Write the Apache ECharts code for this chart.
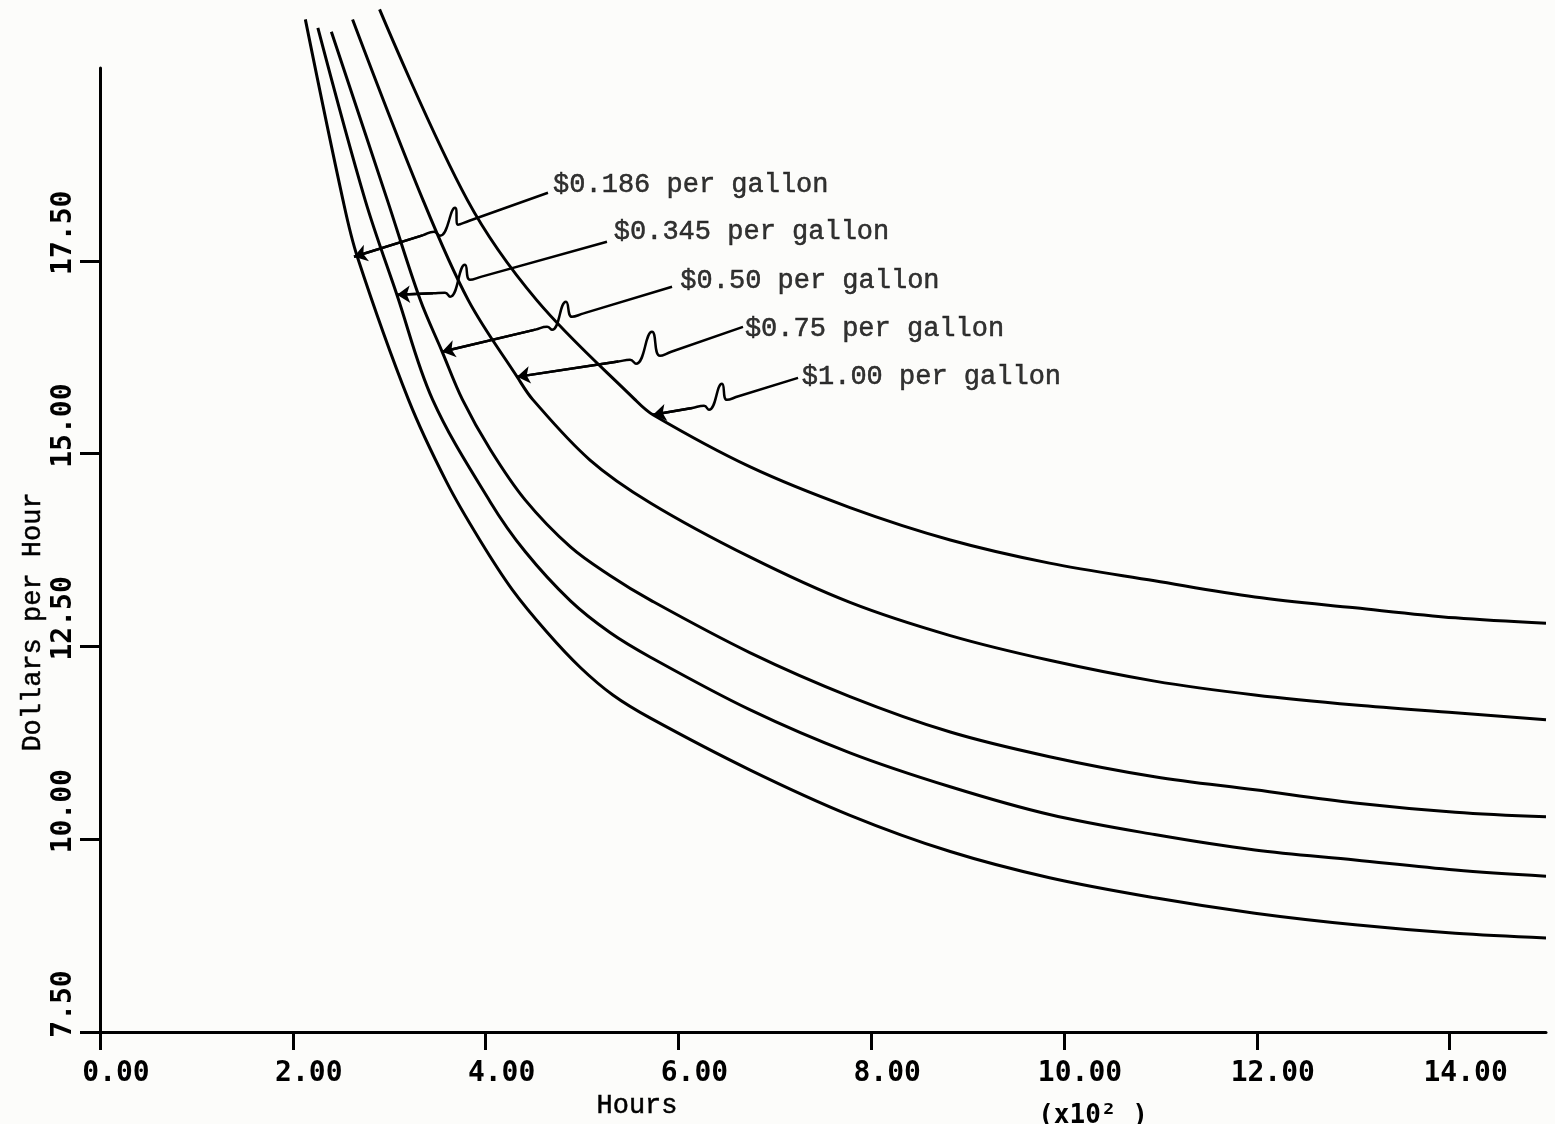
<!DOCTYPE html>
<html>
<head>
<meta charset="utf-8">
<title>Dollars per Hour vs Hours</title>
<script src="https://cdn.jsdelivr.net/npm/echarts@6/dist/echarts.min.js"></script>
<style>
  html, body { margin: 0; padding: 0; background: #fcfcfa; }
  #chart { width: 1555px; height: 1124px; }
</style>
</head>
<body>
<div id="chart"></div>
<script>
// curves: [hours (x100), dollars per hour]
var cost0186 = [[2.13,20.63],[2.52,18.29],[2.67,17.55],[3.20,15.70],[3.60,14.62],[3.94,13.88],[4.28,13.23],[4.64,12.68],[4.98,12.23],[5.32,11.87],[5.71,11.57],[6.74,10.90],[7.78,10.31],[8.82,9.84],[9.85,9.50],[10.94,9.24],[11.98,9.04],[13.02,8.89],[14.06,8.78],[15.0,8.72]];
var cost0345 = [[2.26,20.52],[2.75,18.29],[3.08,17.06],[3.45,15.70],[4.05,14.37],[4.41,13.73],[4.88,13.09],[5.29,12.68],[5.71,12.36],[6.74,11.68],[7.78,11.12],[8.82,10.68],[9.85,10.32],[10.94,10.06],[11.98,9.86],[13.02,9.73],[14.06,9.60],[15.0,9.52]];
var cost050 = [[2.40,20.47],[2.98,18.29],[3.32,17.00],[3.55,16.32],[3.76,15.70],[4.05,15.05],[4.41,14.40],[4.88,13.79],[5.29,13.42],[5.71,13.10],[6.74,12.42],[7.78,11.85],[8.82,11.39],[9.85,11.07],[10.94,10.81],[11.98,10.64],[13.02,10.47],[14.06,10.35],[15.0,10.29]];
var cost075 = [[2.62,20.63],[3.35,18.29],[3.82,16.99],[4.33,15.99],[4.49,15.70],[5.08,14.92],[5.71,14.36],[6.74,13.66],[7.78,13.07],[8.82,12.64],[9.85,12.32],[10.94,12.05],[11.98,11.87],[13.02,11.74],[14.06,11.64],[15.0,11.55]];
var cost100 = [[2.90,20.76],[3.81,18.29],[4.53,16.99],[5.55,15.70],[5.74,15.50],[6.74,14.83],[7.78,14.30],[8.82,13.88],[9.85,13.58],[10.94,13.35],[11.98,13.14],[13.02,13.00],[14.06,12.87],[15.0,12.80]];

var priceLabels = ["$0.186 per gallon", "$0.345 per gallon", "$0.50 per gallon", "$0.75 per gallon", "$1.00 per gallon"];
var labelAnchors = [[4.70,18.49],[5.33,17.88],[6.02,17.24],[6.69,16.62],[7.28,16.00]];

// hand-drawn pointers: label end, straight run, squiggle, straight run, tip on the curve
var pointer0186 = [[4.647,18.382],[3.831,18.019],[3.714,17.967],[3.683,18.187],[3.527,17.824],[3.465,17.876],[3.345,17.829],[2.635,17.552]];
var pointer0345 = [[5.259,17.746],[3.959,17.295],[3.838,17.253],[3.786,17.448],[3.631,17.033],[3.579,17.085],[3.454,17.078],[3.081,17.059]];
var pointer050 = [[5.934,17.163],[5.016,16.818],[4.896,16.774],[4.834,16.968],[4.689,16.605],[4.637,16.644],[4.516,16.608],[3.548,16.320]];
var pointer075 = [[6.670,16.644],[5.926,16.320],[5.809,16.268],[5.726,16.579],[5.560,16.164],[5.498,16.216],[5.375,16.193],[4.326,15.995]];
var pointer100 = [[7.241,15.982],[6.623,15.744],[6.504,15.697],[6.452,15.905],[6.317,15.567],[6.266,15.619],[6.143,15.592],[5.737,15.503]];

var xTicks = [0, 2, 4, 6, 8, 10, 12, 14];
var yTicks = [7.5, 10, 12.5, 15, 17.5];

var ink = "#000";
var plotFont = "DejaVu Sans Mono";
var typeFont = "Liberation Mono";

function curve(data) {
  return {
    type: "line",
    data: data,
    symbol: "none",
    smooth: 0.35,
    clip: false,
    silent: true,
    z: 5,
    lineStyle: { color: ink, width: 3 }
  };
}

function pointer(path) {
  return {
    type: "line",
    data: path,
    symbol: "none",
    smooth: 0.5,
    clip: false,
    silent: true,
    z: 6,
    lineStyle: { color: ink, width: 2.5 },
    markLine: {
      silent: true,
      symbol: ["none", "arrow"],
      symbolSize: 13,
      label: { show: false },
      lineStyle: { color: ink, width: 2.5, type: "solid" },
      data: [[{ coord: path[path.length - 2] }, { coord: path[path.length - 1] }]]
    }
  };
}

var typeText = { fontFamily: typeFont, fontSize: 27, color: ink, textBorderColor: ink, textBorderWidth: 0.5 };

var chart = echarts.init(document.getElementById("chart"));

chart.setOption({
  animation: false,
  backgroundColor: "#fcfcfa",
  grid: { left: 100, right: 9, top: 68, bottom: 92, outerBoundsMode: "none" },
  xAxis: {
    type: "value",
    min: 0,
    max: 15,
    name: "Hours",
    nameLocation: "middle",
    nameGap: 60,
    nameMoveOverlap: false,
    nameTextStyle: Object.assign({ padding: [0, 372, 0, 0] }, typeText),
    axisLine: { onZero: false, lineStyle: { color: ink, width: 3 } },
    axisTick: { customValues: xTicks, length: 18, lineStyle: { color: ink, width: 3 } },
    axisLabel: {
      customValues: xTicks,
      fontFamily: plotFont,
      fontWeight: "bold",
      fontSize: 28,
      lineHeight: 32,
      color: ink,
      margin: 26,
      padding: [0, 0, 0, 32],
      formatter: function (v) {
        return v === 10 ? "10.00\n{u|(x10² )}" : v.toFixed(2);
      },
      rich: {
        u: { fontFamily: plotFont, fontWeight: "bold", fontSize: 26, lineHeight: 52, color: ink, padding: [0, 0, 0, 26] }
      }
    },
    splitLine: { show: false }
  },
  yAxis: {
    type: "value",
    min: 7.5,
    max: 20,
    name: "Dollars per Hour",
    nameLocation: "middle",
    nameRotate: 90,
    nameGap: 54,
    nameMoveOverlap: false,
    nameTextStyle: Object.assign({ padding: [0, 144, 0, 0] }, typeText),
    axisLine: { onZero: false, lineStyle: { color: ink, width: 3 } },
    axisTick: { customValues: yTicks, length: 20, lineStyle: { color: ink, width: 3 } },
    axisLabel: {
      customValues: yTicks,
      rotate: 90,
      fontFamily: plotFont,
      fontWeight: "bold",
      fontSize: 28,
      color: ink,
      margin: 22,
      padding: [0, 0, 0, 56],
      formatter: function (v) { return v.toFixed(2); }
    },
    splitLine: { show: false }
  },
  series: [
    curve(cost0186),
    curve(cost0345),
    curve(cost050),
    curve(cost075),
    curve(cost100),
    pointer(pointer0186),
    pointer(pointer0345),
    pointer(pointer050),
    pointer(pointer075),
    pointer(pointer100),
    {
      type: "scatter",
      silent: true,
      symbolSize: 0,
      z: 7,
      data: priceLabels.map(function (t, i) { return { name: t, value: labelAnchors[i] }; }),
      label: Object.assign({
        show: true,
        position: "right",
        distance: 0,
        formatter: "{b}"
      }, typeText)
    }
  ]
});
</script>
</body>
</html>
